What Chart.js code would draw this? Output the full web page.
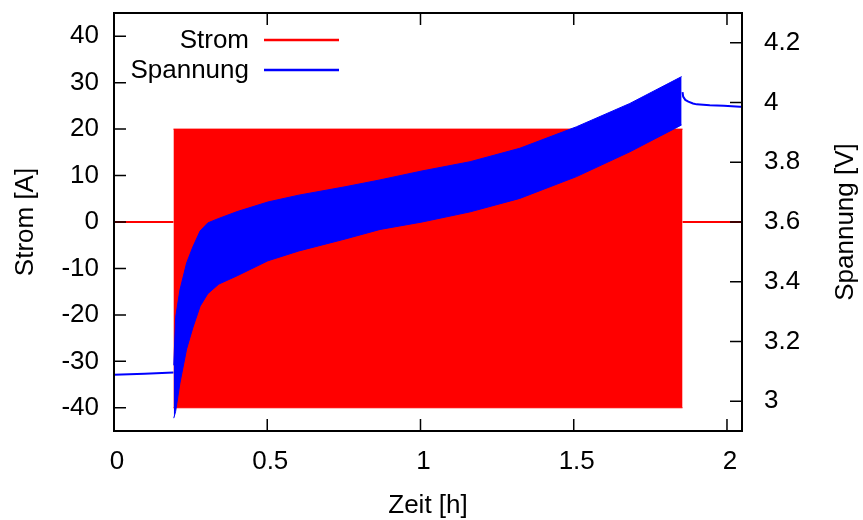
<!DOCTYPE html>
<html>
<head>
<meta charset="utf-8">
<script src="https://cdn.jsdelivr.net/npm/chart.js@4/dist/chart.umd.min.js"></script>
<style>
  body { margin: 0; background: #fff; }
  canvas { display: block; }
</style>
</head>
<body>
<canvas id="lade-chart" width="863" height="520"></canvas>
<script>
// Achsen-Ticks
const zeitTicks = [0, 0.5, 1, 1.5, 2];
const stromTicks = [-40, -30, -20, -10, 0, 10, 20, 30, 40];
const spannungTicks = [3, 3.2, 3.4, 3.6, 3.8, 4, 4.2];

// Strom: Ruhephasen (0 A) und Pulsbereich (20 A / -40 A)
const stromVorZeit = [0, 0.194];
const stromVorWert = [0, 0];
const stromNachZeit = [1.855, 2.049];
const stromNachWert = [0, 0];
const pulsZeit = [0.194, 1.855];
const pulsOben = [20, 20];
const pulsUnten = [-40, -40];

// Spannung: Huellkurven waehrend der Pulse
const huelleZeit = [0.195, 0.201, 0.215, 0.237, 0.257, 0.281, 0.306, 0.342, 0.402, 0.502,
                    0.603, 0.754, 0.868, 1.005, 1.162, 1.324, 1.509, 1.683, 1.852];
const spannungOben = [3.12, 3.28, 3.372, 3.463, 3.516, 3.57, 3.597, 3.612, 3.635, 3.667,
                      3.69, 3.718, 3.741, 3.771, 3.802, 3.847, 3.919, 3.997, 4.087];
const spannungUnten = [2.943, 2.965, 3.06, 3.175, 3.245, 3.318, 3.36, 3.392, 3.42, 3.47,
                       3.503, 3.543, 3.575, 3.60, 3.634, 3.679, 3.752, 3.835, 3.925];

// Spannung: vor und nach den Pulsen
const spannungVorZeit = [0, 0.1, 0.194];
const spannungVorWert = [3.088, 3.092, 3.096];
const spannungNachZeit = [1.855, 1.857, 1.864, 1.874, 1.889, 1.901, 1.944, 1.990, 2.042, 2.049];
const spannungNachWert = [4.035, 4.02, 4.009, 4.003, 3.997, 3.994, 3.991, 3.989, 3.986, 3.986];

const ROT = '#ff0000';
const BLAU = '#0000ff';

const punkte = (xs, ys) => xs.map((x, i) => ({ x: x, y: ys[i] }));

Chart.defaults.font.family = "'Liberation Sans', Arial, sans-serif";
Chart.defaults.font.size = 26;
Chart.defaults.color = '#000';

// Rahmen, Ticks nach innen, Legende und rechte Achsenbeschriftung wie bei gnuplot
const gnuplotStil = {
    id: 'gnuplotStil',
    afterDraw(chart) {
        const { ctx, chartArea: a, scales } = chart;
        const tl = 12;
        ctx.save();
        ctx.strokeStyle = '#000';
        ctx.lineWidth = 1.5;
        ctx.beginPath();
        scales.x.ticks.forEach(t => {
            const p = scales.x.getPixelForValue(t.value);
            ctx.moveTo(p, a.bottom); ctx.lineTo(p, a.bottom - tl);
            ctx.moveTo(p, a.top); ctx.lineTo(p, a.top + tl);
        });
        scales.y.ticks.forEach(t => {
            const p = scales.y.getPixelForValue(t.value);
            ctx.moveTo(a.left, p); ctx.lineTo(a.left + tl, p);
        });
        scales.y2.ticks.forEach(t => {
            const p = scales.y2.getPixelForValue(t.value);
            ctx.moveTo(a.right, p); ctx.lineTo(a.right - tl, p);
        });
        ctx.stroke();

        ctx.lineWidth = 2;
        ctx.strokeRect(a.left, a.top, a.right - a.left, a.bottom - a.top);

        // Legende
        ctx.font = "26px 'Liberation Sans', Arial, sans-serif";
        ctx.fillStyle = '#000';
        ctx.textAlign = 'right';
        ctx.textBaseline = 'middle';
        const eintraege = [['Strom', ROT, 40], ['Spannung', BLAU, 70]];
        eintraege.forEach(([text, farbe, y]) => {
            ctx.fillText(text, 249, y + 1);
            ctx.strokeStyle = farbe;
            ctx.lineWidth = 2.5;
            ctx.beginPath();
            ctx.moveTo(264, y);
            ctx.lineTo(339, y);
            ctx.stroke();
        });

        // rechte Achsenbeschriftung (von unten nach oben)
        ctx.translate(846, (a.top + a.bottom) / 2);
        ctx.rotate(-Math.PI / 2);
        ctx.textAlign = 'center';
        ctx.fillText('Spannung [V]', 0, 0);
        ctx.restore();
    }
};

const ctx = document.getElementById('lade-chart').getContext('2d');

const chart = new Chart(ctx, {
    type: 'line',
    data: {
        datasets: [
            {
                label: 'Spannung',
                data: punkte(huelleZeit, spannungOben),
                yAxisID: 'y2',
                borderColor: BLAU,
                backgroundColor: BLAU,
                borderWidth: 1,
                fill: '+1'
            },
            {
                label: 'Spannung unten',
                data: punkte(huelleZeit, spannungUnten),
                yAxisID: 'y2',
                borderColor: BLAU,
                borderWidth: 1,
                fill: false
            },
            {
                label: 'Spannung vor',
                data: punkte(spannungVorZeit, spannungVorWert),
                yAxisID: 'y2',
                borderColor: BLAU,
                borderWidth: 2,
                fill: false
            },
            {
                label: 'Spannung nach',
                data: punkte(spannungNachZeit, spannungNachWert),
                yAxisID: 'y2',
                borderColor: BLAU,
                borderWidth: 2,
                fill: false
            },
            {
                label: 'Strom',
                data: punkte(pulsZeit, pulsOben),
                yAxisID: 'y',
                borderColor: ROT,
                backgroundColor: ROT,
                borderWidth: 1,
                fill: '+1'
            },
            {
                label: 'Strom unten',
                data: punkte(pulsZeit, pulsUnten),
                yAxisID: 'y',
                borderColor: ROT,
                borderWidth: 1,
                fill: false
            },
            {
                label: 'Strom vor',
                data: punkte(stromVorZeit, stromVorWert),
                yAxisID: 'y',
                borderColor: ROT,
                borderWidth: 2,
                fill: false
            },
            {
                label: 'Strom nach',
                data: punkte(stromNachZeit, stromNachWert),
                yAxisID: 'y',
                borderColor: ROT,
                borderWidth: 2,
                fill: false
            }
        ]
    },
    options: {
        responsive: false,
        animation: false,
        devicePixelRatio: 1,
        layout: { padding: { top: 13, left: 0, right: 0, bottom: 0 } },
        elements: {
            point: { radius: 0, hoverRadius: 0 },
            line: { tension: 0 }
        },
        plugins: {
            legend: { display: false },
            tooltip: { enabled: false }
        },
        scales: {
            x: {
                type: 'linear',
                position: 'bottom',
                min: 0,
                max: 2.049,
                afterBuildTicks: s => { s.ticks = zeitTicks.map(v => ({ value: v })); },
                afterFit: s => { s.height = 89; s.paddingLeft = 0; s.paddingRight = 0; },
                grid: { display: false, drawTicks: false },
                border: { display: false },
                ticks: { padding: 15, labelOffset: 3, maxRotation: 0, callback: v => String(v) },
                title: { display: true, text: 'Zeit [h]', padding: { top: 0, bottom: -1 } }
            },
            y: {
                type: 'linear',
                position: 'left',
                min: -45,
                max: 45,
                afterBuildTicks: s => { s.ticks = stromTicks.map(v => ({ value: v })); },
                afterFit: s => { s.width = 114; s.paddingTop = 0; s.paddingBottom = 0; },
                grid: { display: false, drawTicks: false },
                border: { display: false },
                ticks: { padding: 15, callback: v => String(v) },
                title: { display: true, text: 'Strom [A]', padding: { top: 10, bottom: 0 } }
            },
            y2: {
                type: 'linear',
                position: 'right',
                min: 2.9,
                max: 4.3,
                afterBuildTicks: s => { s.ticks = spannungTicks.map(v => ({ value: v })); },
                afterFit: s => { s.width = 121; s.paddingTop = 0; s.paddingBottom = 0; },
                grid: { display: false, drawTicks: false },
                border: { display: false },
                ticks: { padding: 22, callback: v => String(v) }
            }
        }
    },
    plugins: [gnuplotStil]
});
</script>
</body>
</html>
